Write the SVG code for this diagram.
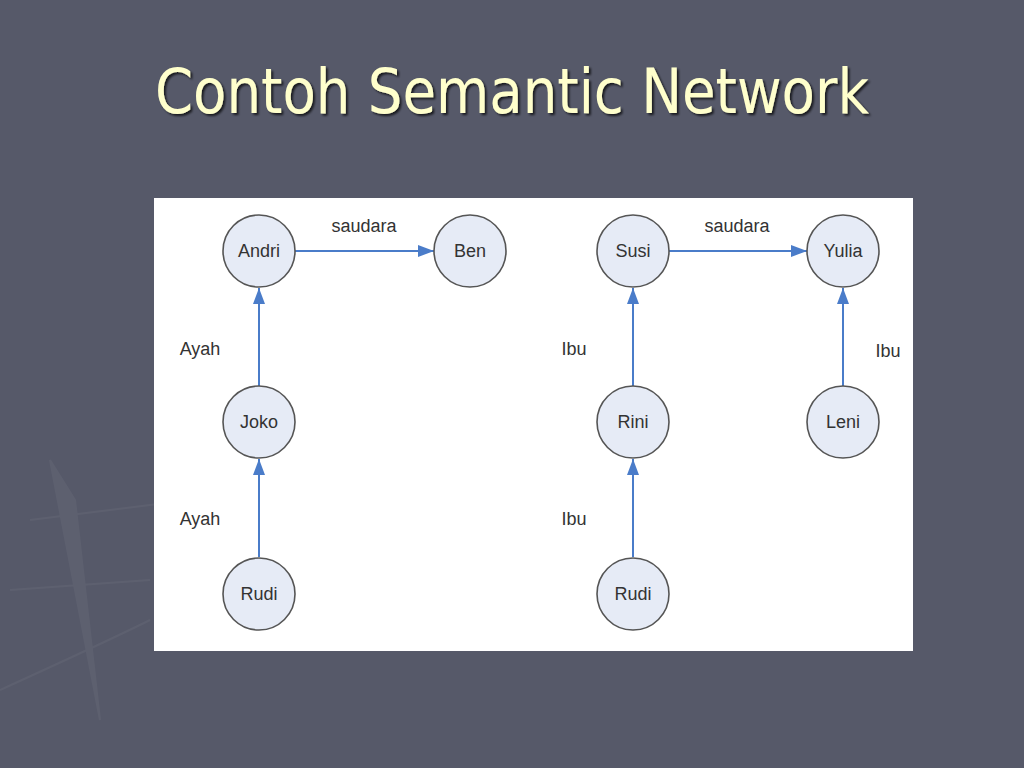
<svg xmlns="http://www.w3.org/2000/svg" width="1024" height="768" viewBox="0 0 1024 768">
<defs>
<marker id="arrBig" viewBox="0 0 16 12" refX="16" refY="6" markerWidth="16" markerHeight="12" markerUnits="userSpaceOnUse" orient="auto">
<path d="M0,0 L16,6 L0,12 z" fill="#4a7cc9"/>
</marker>
<filter id="sh" x="-5%" y="-20%" width="110%" height="140%">
<feDropShadow dx="2" dy="2" stdDeviation="1" flood-color="#000" flood-opacity="0.7"/>
</filter>
</defs>
<style>
.node circle{fill:#e6ebf6;stroke:#555;stroke-width:1.6}
.node text{font-family:"Liberation Sans",Arial,sans-serif;font-size:18px;fill:#333;text-anchor:middle}
.edge{stroke:#4a7cc9;stroke-width:2;fill:none}
.lbl{font-family:"Liberation Sans",Arial,sans-serif;font-size:18px;fill:#333;text-anchor:middle}
</style>
<rect width="1024" height="768" fill="#565969"/>
<g opacity="0.04" stroke="#fff" fill="none" stroke-width="2">
<path d="M50,460 L100,720 L75,500 z" fill="#fff"/>
<path d="M0,690 Q110,640 150,620"/>
<path d="M30,520 L190,500 M10,590 L150,580"/>
</g>
<text x="512" y="113" text-anchor="middle" font-family="'DejaVu Sans Condensed','DejaVu Sans',sans-serif" font-size="62" fill="#ffffcc" filter="url(#sh)" textLength="714" lengthAdjust="spacingAndGlyphs">Contoh Semantic Network</text>
<rect x="154" y="198" width="759" height="453" fill="#ffffff"/>
<g id="connectors">
<line class="edge" x1="295" y1="251" x2="434" y2="251" marker-end="url(#arrBig)"/>
<line class="edge" x1="259" y1="386" x2="259" y2="288" marker-end="url(#arrBig)"/>
<line class="edge" x1="259" y1="557" x2="259" y2="459" marker-end="url(#arrBig)"/>
<line class="edge" x1="669" y1="251" x2="807" y2="251" marker-end="url(#arrBig)"/>
<line class="edge" x1="633" y1="386" x2="633" y2="288" marker-end="url(#arrBig)"/>
<line class="edge" x1="633" y1="557" x2="633" y2="459" marker-end="url(#arrBig)"/>
<line class="edge" x1="843" y1="386" x2="843" y2="288" marker-end="url(#arrBig)"/>
<text class="lbl" x="364" y="232">saudara</text>
<text class="lbl" x="200" y="355">Ayah</text>
<text class="lbl" x="200" y="525">Ayah</text>
<text class="lbl" x="737" y="232">saudara</text>
<text class="lbl" x="574" y="355">Ibu</text>
<text class="lbl" x="574" y="525">Ibu</text>
<text class="lbl" x="888" y="357">Ibu</text>
</g>
<g id="andri" class="node"><circle cx="259" cy="251" r="36"/><text x="259" y="257">Andri</text></g>
<g id="ben" class="node"><circle cx="470" cy="251" r="36"/><text x="470" y="257">Ben</text></g>
<g id="joko" class="node"><circle cx="259" cy="422" r="36"/><text x="259" y="428">Joko</text></g>
<g id="rudi1" class="node"><circle cx="259" cy="594" r="36"/><text x="259" y="600">Rudi</text></g>
<g id="susi" class="node"><circle cx="633" cy="251" r="36"/><text x="633" y="257">Susi</text></g>
<g id="yulia" class="node"><circle cx="843" cy="251" r="36"/><text x="843" y="257">Yulia</text></g>
<g id="rini" class="node"><circle cx="633" cy="422" r="36"/><text x="633" y="428">Rini</text></g>
<g id="leni" class="node"><circle cx="843" cy="422" r="36"/><text x="843" y="428">Leni</text></g>
<g id="rudi2" class="node"><circle cx="633" cy="594" r="36"/><text x="633" y="600">Rudi</text></g>
</svg>
